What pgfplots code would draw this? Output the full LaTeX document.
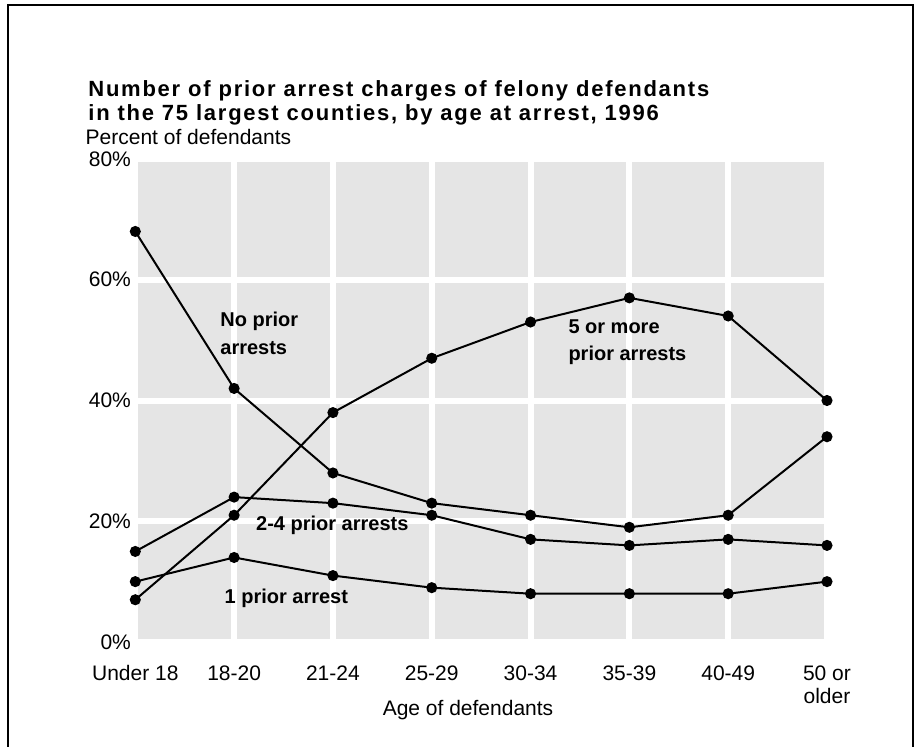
\documentclass[border=0pt]{standalone}
\usepackage{fontspec}
\setmainfont{Liberation Sans}
\newfontfamily\titlefont[LetterSpace=8]{Liberation Sans}
\usepackage{pgfplots}
\pgfplotsset{compat=1.18}
\definecolor{cellgray}{RGB}{229,229,229}
\tikzset{
  ser/.style={black, line width=1pt, mark=*, mark size=2.25pt, mark options={solid, fill=black}},
  lab/.style={anchor=base west, inner sep=0pt, font=\bfseries\fontsize{10}{12}\selectfont},
}
\begin{document}
\begin{tikzpicture}[x=0.5pt,y=0.5pt]
\useasboundingbox (0,0) rectangle (917,746);
\draw[line width=1pt] (8,-20) -- (8,741) -- (913,741) -- (913,-20);
\node[anchor=base west, inner sep=0, font=\titlefont\bfseries\fontsize{11}{13}\selectfont] at (88,649) {Number of prior arrest charges of felony defendants};
\node[anchor=base west, inner sep=0, font=\titlefont\bfseries\fontsize{11}{13}\selectfont] at (88,625) {in the 75 largest counties, by age at arrest, 1996};
\begin{axis}[
  at={(67.65pt,52pt)}, anchor=south west,
  width=345.85pt, height=241.5pt, scale only axis,
  xmin=0, xmax=7, ymin=0, ymax=80,
  clip=false,
  axis background/.style={fill=cellgray},
  axis line style={draw=none},
  major tick length=0pt,
  xtick={0,...,7},
  xticklabels={Under 18,18-20,21-24,25-29,30-34,35-39,40-49,{50 or\\older}},
  ytick={0,20,40,60,80},
  yticklabels={0\%,20\%,40\%,60\%,80\%},
  grid=major,
  major grid style={white, line width=3pt},
  xticklabel style={font=\fontsize{10.5}{11.5}\selectfont, align=center, anchor=north, inner sep=0pt, yshift=-11.5pt},
  yticklabel style={font=\fontsize{10.5}{11.5}\selectfont, anchor=east, inner sep=0pt, xshift=-2pt},
  /pgf/number format/assume math mode=true,
  xlabel={Age of defendants},
  every axis x label/.style={at={(axis description cs:0.481,0)}, anchor=base, inner sep=0pt, yshift=-36.5pt, font=\fontsize{10.5}{12}\selectfont},
  ylabel={Percent of defendants},
  every axis y label/.style={at={(axis description cs:-0.0723,1.0455)}, anchor=west, inner sep=0pt, font=\fontsize{10.5}{12}\selectfont},
]
% No prior arrests
\addplot[ser] coordinates {(0,68) (1,42) (2,28) (3,23) (4,21) (5,19) (6,21) (7,34)};
% 5 or more prior arrests
\addplot[ser] coordinates {(0,7) (1,21) (2,38) (3,47) (4,53) (5,57) (6,54) (7,40)};
% 2-4 prior arrests
\addplot[ser] coordinates {(0,15) (1,24) (2,23) (3,21) (4,17) (5,16) (6,17) (7,16)};
% 1 prior arrest
\addplot[ser] coordinates {(0,10) (1,14) (2,11) (3,9) (4,8) (5,8) (6,8) (7,10)};
\node[lab] at (axis cs:0.857,52.2) {No prior};
\node[lab] at (axis cs:0.857,47.7) {arrests};
\node[lab] at (axis cs:4.38,51.1) {5 or more};
\node[lab] at (axis cs:4.38,46.7) {prior arrests};
\node[lab] at (axis cs:1.219,18.4) {2-4 prior arrests};
\node[lab] at (axis cs:0.90,6.4) {1 prior arrest};
\end{axis}
\end{tikzpicture}
\end{document}
